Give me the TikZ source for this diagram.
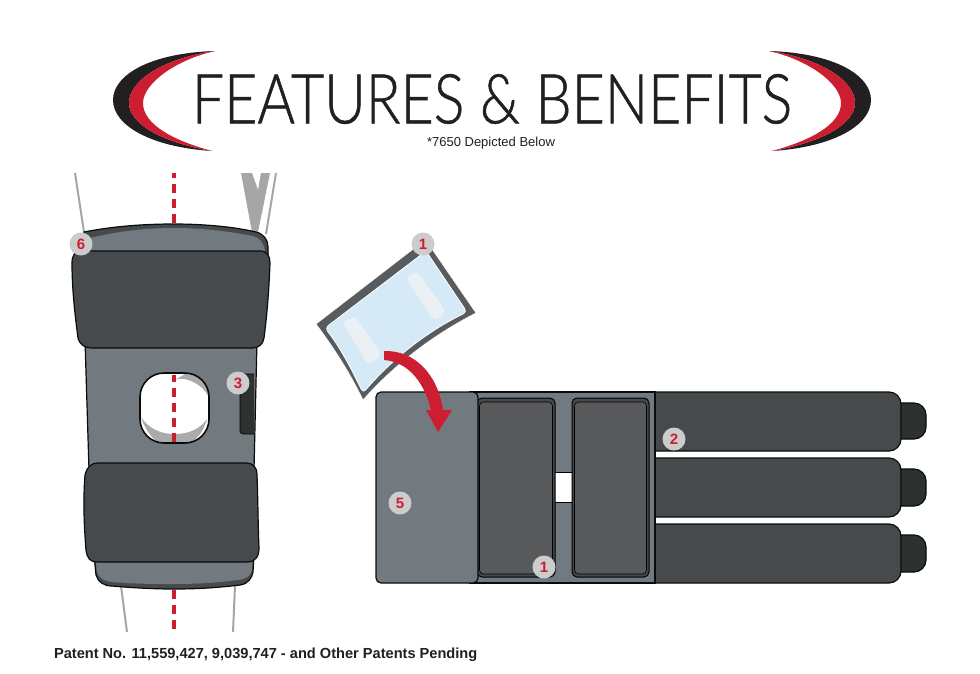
\documentclass[tikz,border=0pt]{standalone}
\usepackage{fontspec}
\setmainfont{Liberation Sans}
\setsansfont{Liberation Sans}
\newfontfamily\headfont[FakeStretch=0.83, FakeBold=0.7]{Lato Light}
\definecolor{shell}{HTML}{727A7F}
\definecolor{strap}{HTML}{464A4C}
\definecolor{tabdark}{HTML}{2B3230}
\definecolor{paddark}{HTML}{58595B}
\definecolor{redmark}{HTML}{CD1D31}
\definecolor{ink}{HTML}{231F20}
\definecolor{gel}{HTML}{D5E9F6}
\definecolor{gelstrip}{HTML}{EBF0F4}
\newcommand*{\crescent}{
    \fill [ink] (215,51) .. controls (150,53) and (113,75) .. (113,100) .. controls (113,125) and (150,147) .. (212,151) .. controls (165,143) and (129,125) .. (129,103) .. controls (129,80) and (165,58) .. (215,51) -- cycle;
    \fill [redmark] (215,51) .. controls (165,58) and (129,80) .. (129,103) .. controls (129,125) and (165,143) .. (212,151) .. controls (175,141) and (143,125) .. (143,103) .. controls (143,84) and (175,60) .. (215,51) -- cycle;
}
\tikzset{
    outline/.style = {draw = black!85!strap, line width=1.2pt},
    badge/.style = {circle, fill = black!20, minimum size=23pt, inner sep=0pt, text=redmark, font=\sffamily\bfseries\fontsize{15}{15}\selectfont},
    centreline/.style = {draw = redmark, line width=3.2pt, dash pattern=on 8.5pt off 6.5pt},
    limb/.style = {draw = black!35, line width=2pt}
}

\begin{document}
\begin{tikzpicture}[x=1pt, y=-1pt, font=\sffamily]
    \useasboundingbox [fill = white] (0,0) rectangle (980,673);

    % heading
    \crescent
    \begin{scope}[shift={(984,0)}, xscale=-1]
        \crescent
    \end{scope}
    \node [inner sep=0pt, text=ink, font=\headfont\fontsize{69}{69}\selectfont] (title) at (492,99) {FEATURES \& BENEFITS};
    \node [inner sep=0pt, text=ink, font=\sffamily\fontsize{13}{13}\selectfont] (subtitle) at (491,143) {*7650 Depicted Below};

    % leg lines behind the worn brace
    \draw [limb] (75,173) -- (84,232);
    \draw [limb] (276,173) -- (266,234);
    \fill [black!35] (241,173) -- (252,173) -- (258,190) -- (261,173) -- (270,173) -- (258,232) -- (252,232) -- cycle;
    \draw [limb] (121,586) -- (127,632);
    \draw [limb] (235,586) -- (233,632);
    \draw [centreline, dash phase=3.8pt] (174,173) -- (174,226);
    \draw [centreline] (174,590) -- (174,632);

    % worn brace, back cuffs
    \draw [outline, fill=strap] (84,232) .. controls (115,226) and (145,224) .. (174,224) .. controls (205,224) and (235,227) .. (256,232) .. controls (264,234) and (268,240) .. (268,247) -- (268,260) -- (84,260) -- cycle;
    \fill [shell] (90,238) .. controls (120,231) and (145,228) .. (174,228) .. controls (205,228) and (232,232) .. (253,236) .. controls (260,238) and (264,243) .. (265,252) -- (265,260) -- (86,260) -- cycle;
    \draw [outline, fill=strap] (94,555) -- (96,575) .. controls (98,582) and (104,586) .. (112,586) .. controls (135,588) and (155,589) .. (174,589) .. controls (195,589) and (215,588) .. (240,585) .. controls (248,584) and (252,578) .. (253,572) -- (254,555) -- cycle;
    \fill [shell] (95,555) -- (97,572) .. controls (99,578) and (104,581) .. (112,582) .. controls (135,584) and (155,584) .. (174,584) .. controls (195,584) and (215,583) .. (238,580) .. controls (246,579) and (251,576) .. (252,570) -- (253,555) -- cycle;

    % worn brace, body and knee opening
    \draw [outline, fill=shell] (85,340) -- (89,470) -- (254,470) -- (257,340) -- cycle;
    \fill [white, rounded corners=24pt] (140,373) rectangle (209,443);
    \begin{scope}
        \clip [rounded corners=24pt] (140,373) rectangle (209,443);
        \fill [black!33] (175,380) .. controls (180,377) and (184,375) .. (186,373) -- (209,373) -- (209,398) .. controls (205,388) and (195,381) .. (184,379) .. controls (180,378.5) and (177,379) .. (175,380) -- cycle;
        \fill [black!33] (141,417) .. controls (148,428) and (160,434) .. (174,434) .. controls (188,434) and (199,430) .. (207,419) .. controls (204,430) and (198,438) .. (191,443) -- (158,443) .. controls (150,436) and (144,427) .. (141,417) -- cycle;
    \end{scope}
    \draw [outline, line width=1.6pt, rounded corners=24pt] (140,373) rectangle (209,443);
    \draw [centreline, dash phase=2pt] (174,375) -- (174,443);
    \draw [draw = black, fill=tabdark, line width=0.6pt, rounded corners=3pt] (254,374) -- (240,374) -- (240,434) -- (254,434);

    % worn brace, straps
    \draw [outline, fill=strap] (72,263) .. controls (72,255) and (75,251) .. (82,251) -- (260,251) .. controls (267,251) and (270,256) .. (270,263) .. controls (269,290) and (267,315) .. (264,338) .. controls (263,345) and (258,348) .. (252,348) -- (92,348) .. controls (85,348) and (80,345) .. (78,338) .. controls (75,315) and (72,290) .. (72,263) -- cycle;
    \draw [outline, fill=strap] (85,475) .. controls (87,467) and (91,463) .. (98,463) -- (246,463) .. controls (253,463) and (257,467) .. (257,475) .. controls (258,500) and (258,525) .. (259,548) .. controls (259,557) and (255,562) .. (247,562) -- (97,562) .. controls (90,562) and (87,558) .. (86,550) .. controls (84,525) and (83,500) .. (85,475) -- cycle;

    % flat brace, three straps with end tabs
    \foreach \taba/\tabb/\stripa/\stripb in {403/439/392/451, 469/506/458/517, 535/572/524/583} {
        \draw [outline, fill=tabdark, rounded corners=12pt] (895,\taba) -- (926,\taba) -- (926,\tabb) -- (895,\tabb);
        \draw [outline, fill=strap, rounded corners=12pt] (640,\stripa) -- (901,\stripa) -- (901,\stripb) -- (640,\stripb);
    }

    % flat brace, panel and pads
    \draw [outline, fill=shell] (470,392) rectangle (655,583);
    \fill [white] (555,472) rectangle (572,502);
    \draw [draw = black, line width=1pt] (555,472) -- (572,472);
    \draw [draw = black, line width=0.6pt] (555,502) -- (572,502);
    \foreach \pada/\padb in {477/555, 572/649} {
        \draw [draw = black, fill=paddark!80!black, line width=1pt, rounded corners=5pt] (\pada,398) rectangle (\padb,577);
        \draw [draw = black, fill=paddark, line width=0.6pt, rounded corners=4pt] (\pada+2.5,402) rectangle (\padb-2.5,574);
    }
    \draw [outline, fill=shell, rounded corners=5pt] (376,392) rectangle (478,583);

    % gel pack and its arrow
    \draw [draw = white, fill=strap!90!white, line width=0.6pt] (425.5,239.5) -- (476,313) .. controls (433,335) and (395,364) .. (363,400) .. controls (350,373) and (334,348) .. (316,324) -- cycle;
    \draw [draw = white, fill=gel, line width=0.8pt, rounded corners=4pt] (426,251) -- (467,312) .. controls (428,331) and (393,358) .. (363,393) .. controls (352,370) and (340,347) .. (325,328) -- cycle;
    \fill [gelstrip, rounded corners=4pt] (342,322) -- (355,316) -- (382,355) -- (368,365) -- cycle;
    \fill [gelstrip, rounded corners=4pt] (406,278) -- (417,271) -- (446,312) -- (434,321) -- cycle;
    \fill [redmark] (384,351) .. controls (415,350) and (438,375) .. (443,410) -- (452,410) -- (438,432) -- (426,410) -- (431,410) .. controls (425,385) and (410,362) .. (384,360) -- cycle;

    % numbered markers
    \node [badge] (band) at (81,244) {6};
    \node [badge] (stay) at (238,383) {3};
    \node [badge] (gelpack) at (423,244) {1};
    \node [badge] (padlow) at (544,567) {1};
    \node [badge] (ends) at (674,439) {2};
    \node [badge] (flap) at (400,503) {5};

    \node [anchor=west, text=ink, font=\sffamily\bfseries\fontsize{14.6}{14.6}\selectfont] (patent) at (50.5,655) {Patent No. 11,559,427, 9,039,747 - and Other Patents Pending};
\end{tikzpicture}
\end{document}
